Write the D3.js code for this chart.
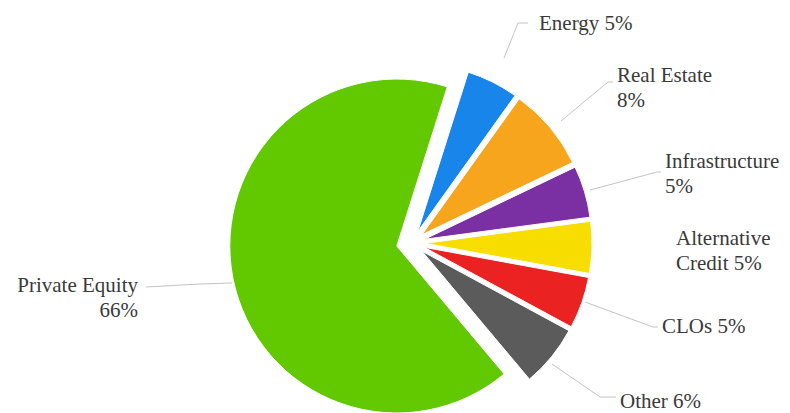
<!DOCTYPE html>
<html>
<head>
<meta charset="utf-8">
<script src="https://cdn.jsdelivr.net/npm/d3@7"></script>
<style>
  html, body { margin: 0; padding: 0; background: #ffffff; }
  svg { display: block; }
  text { font-family: "Liberation Serif", "Times New Roman", serif; fill: #3a3a3a; }
</style>
</head>
<body>
<svg id="chart" width="790" height="413"></svg>
<script>
// Allocation by asset class (percent of total)
const categories = ["Energy", "Real Estate", "Infrastructure", "Alternative Credit", "CLOs", "Other", "Private Equity"];
const shares = [5, 8, 5, 5, 5, 6, 66];
const colors = ["#1785ea", "#f8a51e", "#7a2fa2", "#f7dd00", "#ea2222", "#5b5b5b", "#62c800"];

// Label placement: first baseline, anchor, and how many words of "name pct" go on line one
const labelLayout = [
  { x: 539, y: 30,  anchor: "start", split: 0 },
  { x: 617, y: 82,  anchor: "start", split: 2 },
  { x: 665, y: 168, anchor: "start", split: 1 },
  { x: 676, y: 245, anchor: "start", split: 1 },
  { x: 662, y: 333, anchor: "start", split: 0 },
  { x: 620, y: 408, anchor: "start", split: 0 },
  { x: 138, y: 292, anchor: "end",   split: 2 }
];
// Leader lines from slice edge to label
const leaders = [
  [[504, 58], [518, 23], [528, 23]],
  [[561, 121], [608, 82], [613, 82]],
  [[590, 190], [657, 172], [661, 172]],
  null,
  [[585, 302], [653, 327], [658, 327]],
  [[552, 364], [600, 397], [616, 397]],
  [[232, 283], [200, 284], [146, 287]]
];

const svg = d3.select("#chart");
const cx = 412, cy = 243, radius = 167;
const lineHeight = 25;

const pie = d3.pie().sort(null).value(d => d)
  .startAngle(17.6 * Math.PI / 180)
  .endAngle(17.6 * Math.PI / 180 + 2 * Math.PI);
const arcs = pie(shares);
const arc = d3.arc().innerRadius(0).outerRadius(radius);

const g = svg.append("g").attr("transform", `translate(${cx},${cy})`);

// Every slice is pulled out along its bisector; the large slice a little further
g.selectAll("path.slice")
  .data(arcs)
  .join("path")
  .attr("class", "slice")
  .attr("d", arc)
  .attr("fill", (d, i) => colors[i])
  .attr("stroke", "#ffffff")
  .attr("stroke-width", 1)
  .attr("transform", (d, i) => {
    const mid = (d.startAngle + d.endAngle) / 2;
    const off = i === shares.length - 1 ? 15.5 : 13;
    return `translate(${off * Math.sin(mid)},${-off * Math.cos(mid)})`;
  });

// Leader lines
const line = d3.line();
svg.selectAll("path.leader")
  .data(leaders.filter(l => l))
  .join("path")
  .attr("class", "leader")
  .attr("d", line)
  .attr("fill", "none")
  .attr("stroke", "#c4c4c4")
  .attr("stroke-width", 1);

// Labels
categories.forEach((name, i) => {
  const L = labelLayout[i];
  const words = (name + " " + shares[i] + "%").split(" ");
  const lines = L.split > 0
    ? [words.slice(0, L.split).join(" "), words.slice(L.split).join(" ")]
    : [words.join(" ")];
  const t = svg.append("text")
    .attr("x", L.x).attr("y", L.y)
    .attr("text-anchor", L.anchor)
    .attr("font-size", 21);
  lines.forEach((s, k) => {
    t.append("tspan").attr("x", L.x).attr("dy", k === 0 ? 0 : lineHeight).text(s);
  });
});
</script>
</body>
</html>
